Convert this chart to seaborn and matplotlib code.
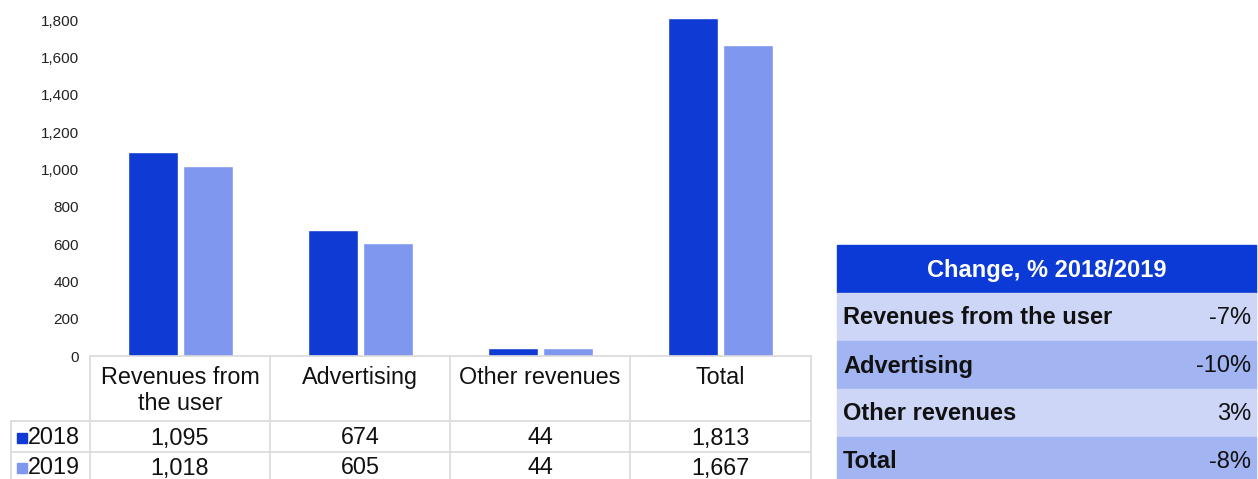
import matplotlib
matplotlib.use("Agg")
import matplotlib.pyplot as plt
from matplotlib.patches import Rectangle
from matplotlib.lines import Line2D
import seaborn as sns
import pandas as pd

categories = ["Revenues from\nthe user", "Advertising", "Other revenues", "Total"]
years = ["2018", "2019"]
values_2018 = [1095, 674, 44, 1813]
values_2019 = [1018, 605, 44, 1667]
change_labels = ["Revenues from the user", "Advertising", "Other revenues", "Total"]
change_values = ["-7%", "-10%", "3%", "-8%"]
change_title = "Change, % 2018/2019"

c2018 = "#0F3BD4"
c2019 = "#7F97EF"
header_blue = "#0C3AD6"
row_light = "#CDD6F6"
row_mid = "#A2B4F1"
grid_gray = "#D9D9D9"

sns.set_theme(style="white")
plt.rcParams["font.family"] = ["Liberation Sans", "DejaVu Sans"]

W, H = 1258, 479
fig = plt.figure(figsize=(W / 100, H / 100), dpi=100)

def fx(px):
    return px / W

def fy(py):
    return 1 - py / H

ax_left, ax_right, ax_top, ax_bottom = 90, 811, 11, 356
ax = fig.add_axes([fx(ax_left), fy(ax_bottom), fx(ax_right) - fx(ax_left), fy(ax_top) - fy(ax_bottom)])

df = pd.DataFrame({
    "category": categories * 2,
    "year": [years[0]] * 4 + [years[1]] * 4,
    "value": values_2018 + values_2019,
})
sns.barplot(data=df, x="category", y="value", hue="year", palette=[c2018, c2019],
            width=0.61, gap=0.09, ax=ax, legend=False, saturation=1)
ax.set_xlim(-0.5, 3.5)
ax.set_ylim(0, 1850)
ax.set_yticks(range(0, 1801, 200))
ax.set_yticklabels([f"{v:,}" for v in range(0, 1801, 200)], fontsize=11)
ax.tick_params(axis="y", length=0, pad=8, colors="#222222")
ax.set_xticks([])
ax.set_xlabel("")
ax.set_ylabel("")
for s in ax.spines.values():
    s.set_visible(False)

# data table below chart
col_edges = [90, 270, 450, 630, 811]

def hline(y, x0, x1):
    fig.add_artist(Line2D([fx(x0), fx(x1)], [fy(y), fy(y)], color=grid_gray, lw=1.2))

def vline(x, y0, y1):
    fig.add_artist(Line2D([fx(x), fx(x)], [fy(y0), fy(y1)], color=grid_gray, lw=1.2))

hline(356, 90, 811)
hline(421, 11, 811)
hline(452, 11, 811)
for x in col_edges:
    vline(x, 356, 479)
vline(11, 421, 479)

tfs = 16.8
for i, cat in enumerate(categories):
    cx = (col_edges[i] + col_edges[i + 1]) / 2
    fig.text(fx(cx), fy(366), cat, ha="center", va="top", fontsize=tfs,
             color="#111111", linespacing=1.17)
    fig.text(fx(cx), fy(438), f"{values_2018[i]:,}", ha="center", va="center",
             fontsize=tfs, color="#111111")
    fig.text(fx(cx), fy(468), f"{values_2019[i]:,}", ha="center", va="center",
             fontsize=tfs, color="#111111")

for y, yr, col in [(438, years[0], c2018), (468, years[1], c2019)]:
    fig.add_artist(Rectangle((fx(17), fy(y + 5)), fx(10), 10 / H, color=col,
                             transform=fig.transFigure))
    fig.text(fx(28), fy(y), yr, ha="left", va="center", fontsize=tfs, color="#111111")

# change table on the right
tx0, tx1 = 837, 1256
fig.add_artist(Rectangle((fx(tx0), fy(293)), fx(tx1 - tx0), (293 - 245) / H,
                         color=header_blue, transform=fig.transFigure))
fig.text(fx((tx0 + tx1) / 2), fy(270), change_title, ha="center", va="center",
         fontsize=17, fontweight="bold", color="white")
row_bounds = [293, 341, 389, 437, 485]
for i, (lab, val) in enumerate(zip(change_labels, change_values)):
    y0, y1 = row_bounds[i], row_bounds[i + 1]
    col = row_light if i % 2 == 0 else row_mid
    fig.add_artist(Rectangle((fx(tx0), fy(y1)), fx(tx1 - tx0), (y1 - y0) / H,
                             color=col, transform=fig.transFigure))
    yc = y0 + 25
    fig.text(fx(843), fy(yc), lab, ha="left", va="center", fontsize=17,
             fontweight="bold", color="#111111")
    fig.text(fx(1251), fy(yc), val, ha="right", va="center", fontsize=17,
             color="#111111")

fig.savefig("out.png", dpi=100)
